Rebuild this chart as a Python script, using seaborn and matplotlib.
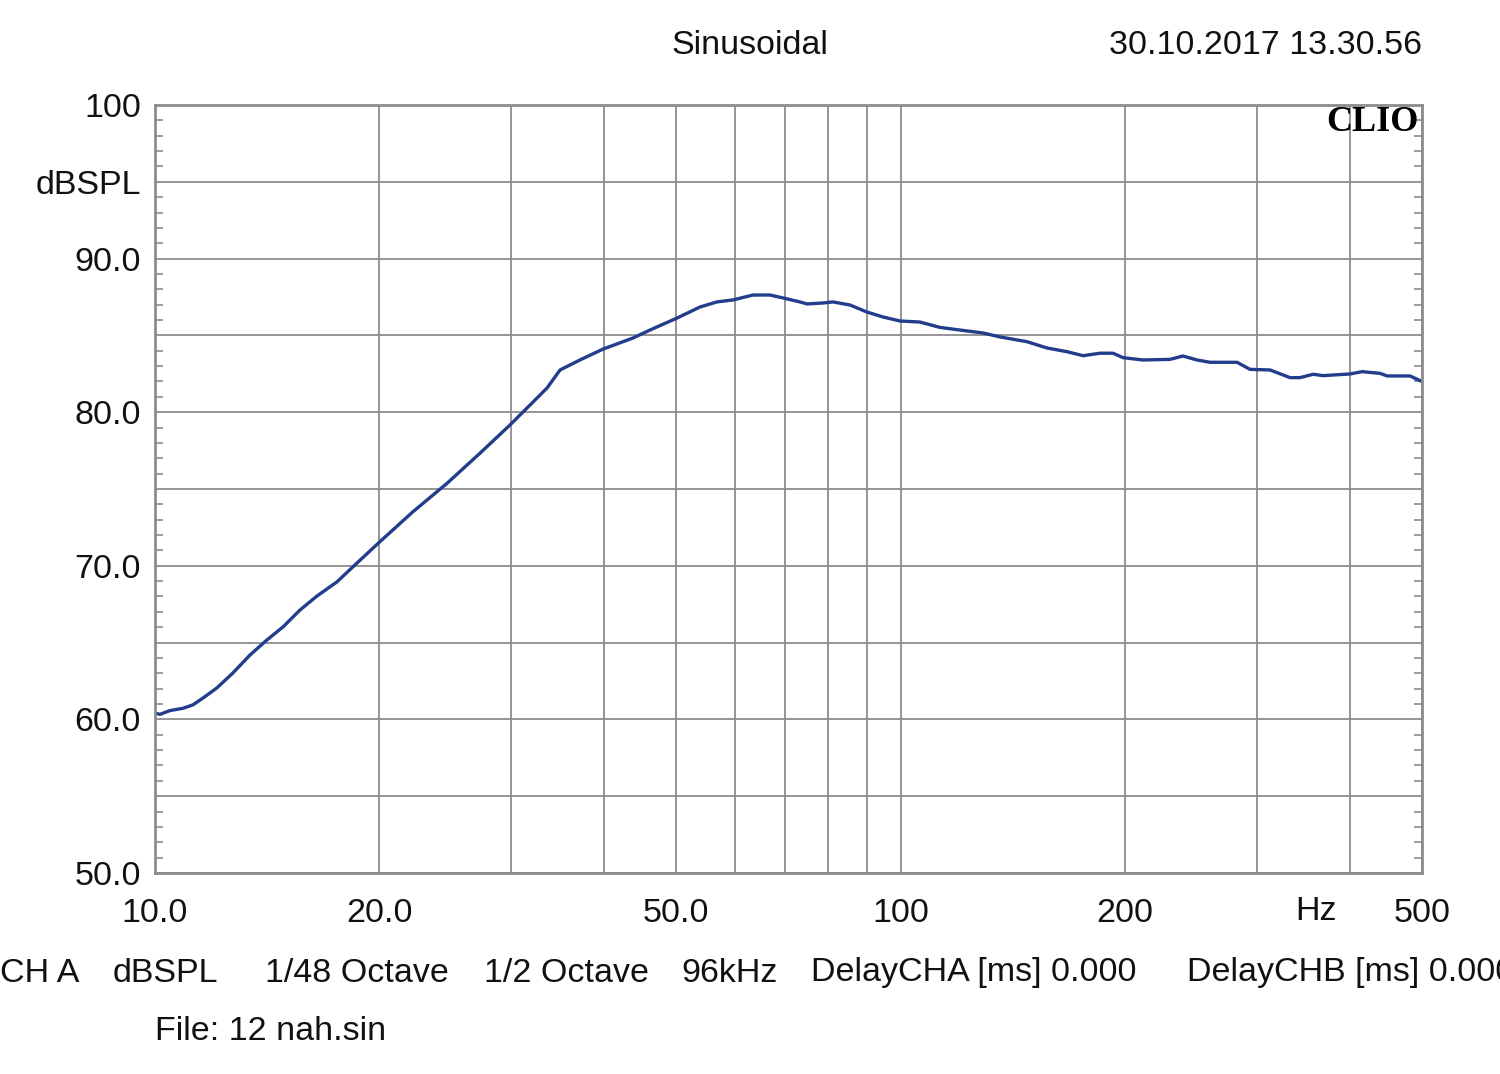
import numpy as np
import pandas as pd
import matplotlib
matplotlib.use("Agg")
import matplotlib.pyplot as plt
import matplotlib.ticker as mticker
import matplotlib.transforms as mtransforms
import seaborn as sns

# frequency response (Hz, dBSPL)
freq = [10.0, 10.16, 10.47, 10.90, 11.24, 11.60, 12.11, 12.72, 13.41, 14.13,
        14.85, 15.65, 16.49, 17.54, 18.66, 20.03, 22.18, 24.64, 27.28, 29.93,
        31.84, 33.56, 34.93, 37.14, 39.89, 43.75, 46.11, 50.12, 53.81, 56.70,
        59.58, 63.38, 66.79, 69.52, 73.27, 74.87, 78.66, 81.13, 85.51, 90.12,
        94.67, 99.77, 106.1, 112.9, 122.7, 128.9, 135.9, 147.7, 157.1, 167.1,
        175.6, 185.0, 192.6, 198.7, 211.3, 229.7, 239.0, 249.6, 259.9, 282.5,
        294.0, 312.8, 332.7, 343.1, 357.2, 368.4, 400.5, 415.6, 439.3, 448.9,
        482.0, 497.2, 500.0]
spl = [60.40, 60.33, 60.57, 60.72, 60.94, 61.39, 62.05, 63.02, 64.19, 65.17,
       66.02, 67.12, 68.03, 68.95, 70.18, 71.57, 73.52, 75.37, 77.33, 79.17,
       80.47, 81.58, 82.75, 83.40, 84.11, 84.83, 85.35, 86.13, 86.85, 87.18,
       87.31, 87.63, 87.63, 87.44, 87.18, 87.05, 87.11, 87.18, 86.98, 86.52,
       86.20, 85.94, 85.87, 85.52, 85.29, 85.16, 84.90, 84.59, 84.18, 83.94,
       83.68, 83.84, 83.84, 83.55, 83.40, 83.44, 83.66, 83.40, 83.25, 83.25,
       82.79, 82.75, 82.25, 82.25, 82.47, 82.38, 82.49, 82.64, 82.53, 82.36,
       82.36, 82.05, 82.00]

x_grid = [10, 20, 30, 40, 50, 60, 70, 80, 90, 100, 200, 300, 400, 500]
x_labels = ["10.0", "20.0", "", "", "50.0", "", "", "", "", "100", "200", "", "", "500"]
y_ticks = [50, 55, 60, 65, 70, 75, 80, 85, 90, 95, 100]
y_labels = ["50.0", "", "60.0", "", "70.0", "", "80.0", "", "90.0", "dBSPL", "100"]

footer = ["CH A", "dBSPL", "1/48 Octave", "1/2 Octave", "96kHz",
          "DelayCHA [ms] 0.000", "DelayCHB [ms] 0.000"]
footer_x = [0, 113, 265, 484, 681, 811, 1187]

sns.set_theme(style="white")
plt.rcParams['font.family'] = ['Liberation Sans', 'DejaVu Sans']

df = pd.DataFrame({"freq": freq, "spl": spl})
fs = 24.5

fig = plt.figure(figsize=(15, 10.74), dpi=100)
ax = fig.add_axes([0.1033, 0.1872, 0.8447, 0.715])
sns.lineplot(data=df, x="freq", y="spl", ax=ax, color="#213d8c", linewidth=2.4,
             estimator=None, sort=False)

ax.set_xscale("log")
ax.set_xlim(10, 500)
ax.set_ylim(50, 100)
ax.xaxis.set_major_locator(mticker.FixedLocator(x_grid))
ax.xaxis.set_minor_locator(mticker.NullLocator())
ax.set_xticklabels(x_labels)
ax.set_yticks(y_ticks)
ax.set_yticklabels(y_labels)
ax.yaxis.set_minor_locator(mticker.MultipleLocator(1))
ax.grid(True, which="major", color="#8c8c8c", linewidth=1.3)
ax.tick_params(axis="x", which="major", length=0, pad=18, labelsize=fs, labelcolor="#111111")
ax.tick_params(axis="y", which="major", length=0, pad=10, labelsize=fs, labelcolor="#111111")
ax.tick_params(axis="y", which="minor", direction="in", length=6, width=1.2,
               color="#8c8c8c", left=True, right=True)
ax.set_xlabel("")
ax.set_ylabel("")
for s in ax.spines.values():
    s.set_color("#8c8c8c")
    s.set_linewidth(2)

# "Hz" unit next to the last tick
trans = mtransforms.blended_transform_factory(ax.transAxes, ax.transAxes)
ax.text(0.9163, -0.0505, "Hz", transform=trans, ha="center", va="center",
        fontsize=fs, color="#111111")

ax.text(0.9975, 0.977, "CLIO", transform=ax.transAxes, ha="right", va="center",
        fontsize=26, fontweight="bold", color="black",
        family=["Liberation Serif", "DejaVu Serif"])

fig.text(750 / 1500, 1 - 46 / 1074, "Sinusoidal", ha="center", va="center",
         fontsize=fs, color="#111111")
fig.text(1422 / 1500, 1 - 46 / 1074, "30.10.2017 13.30.56", ha="right", va="center",
         fontsize=fs, color="#111111")

for txt, xp in zip(footer, footer_x):
    fig.text(xp / 1500, 1 - 973 / 1074, txt, ha="left", va="center",
             fontsize=fs, color="#111111")
fig.text(155 / 1500, 1 - 1031 / 1074, "File: 12 nah.sin", ha="left", va="center",
         fontsize=fs, color="#111111")

fig.savefig("out.png", dpi=100, facecolor="white")
